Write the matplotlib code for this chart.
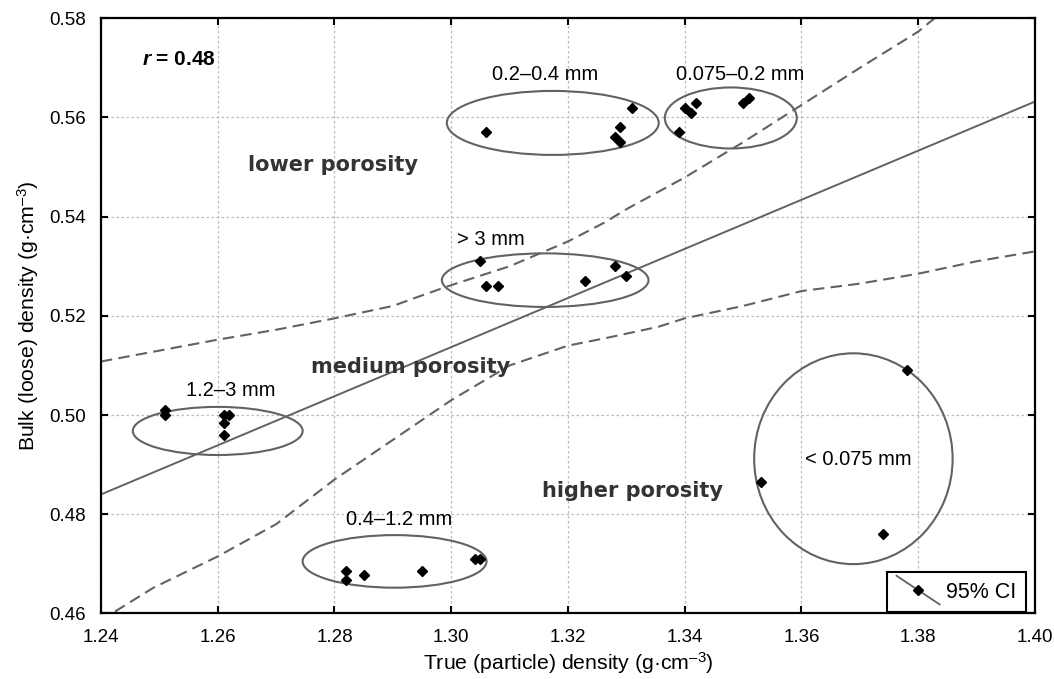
import matplotlib
matplotlib.use('Agg')
import matplotlib.pyplot as plt
from matplotlib.patches import Ellipse
from matplotlib.lines import Line2D
from matplotlib.legend_handler import HandlerBase

plt.rcParams['font.family'] = ['Liberation Sans', 'DejaVu Sans']
plt.rcParams['mathtext.fontset'] = 'custom'
plt.rcParams['mathtext.rm'] = 'Liberation Sans'
plt.rcParams['mathtext.it'] = 'Liberation Sans:italic:bold'
plt.rcParams['mathtext.bf'] = 'Liberation Sans:bold'

# 测量点 (true density, bulk density)
true_density = [1.306, 1.331, 1.329, 1.328, 1.329,            # 0.2-0.4 mm
                1.339, 1.340, 1.341, 1.342, 1.350, 1.351,     # 0.075-0.2 mm
                1.305, 1.306, 1.308, 1.323, 1.328, 1.330,     # > 3 mm
                1.251, 1.251, 1.261, 1.262, 1.261, 1.261,     # 1.2-3 mm
                1.282, 1.282, 1.285, 1.295, 1.304, 1.305,     # 0.4-1.2 mm
                1.378, 1.353, 1.374]                          # < 0.075 mm
bulk_density = [0.557, 0.562, 0.558, 0.556, 0.555,
                0.557, 0.562, 0.561, 0.563, 0.563, 0.564,
                0.531, 0.526, 0.526, 0.527, 0.530, 0.528,
                0.501, 0.500, 0.500, 0.500, 0.4985, 0.496,
                0.4686, 0.4668, 0.4678, 0.4686, 0.471, 0.471,
                0.509, 0.4866, 0.476]

# 各粒径组的椭圆 (中心, 宽, 高) 与标签
group_labels = ['0.2–0.4 mm', '0.075–0.2 mm', '> 3 mm', '1.2–3 mm', '0.4–1.2 mm', '< 0.075 mm']
ell_cx = [1.3174, 1.3479, 1.3161, 1.2600, 1.2903, 1.3689]
ell_cy = [0.5589, 0.5599, 0.5272, 0.4968, 0.4705, 0.4912]
ell_w = [0.0363, 0.0226, 0.0354, 0.0291, 0.0315, 0.0340]
ell_h = [0.0129, 0.0123, 0.0108, 0.0097, 0.0106, 0.0425]
label_x = [1.3161, 1.3495, 1.3068, 1.2623, 1.2911, 1.3698]
label_y = [0.5686, 0.5686, 0.5353, 0.5050, 0.4789, 0.4910]

# 回归线
fit_x = [1.24, 1.40]
fit_y = [0.4840, 0.5632]

# 95% 置信带
upper_x = [1.24, 1.25, 1.26, 1.27, 1.28, 1.29, 1.2947, 1.30, 1.31, 1.32, 1.3264,
           1.33, 1.34, 1.35, 1.36, 1.37, 1.38, 1.3828]
upper_y = [0.5108, 0.5130, 0.5152, 0.5172, 0.5195, 0.5220, 0.5240, 0.5262, 0.5300,
           0.5350, 0.5389, 0.5415, 0.5479, 0.5550, 0.5625, 0.5700, 0.5773, 0.5800]
lower_x = [1.2424, 1.249, 1.26, 1.27, 1.28, 1.29, 1.30, 1.31, 1.32, 1.3264, 1.3355,
           1.34, 1.35, 1.36, 1.37, 1.38, 1.39, 1.40]
lower_y = [0.4604, 0.4652, 0.4715, 0.4780, 0.4870, 0.4950, 0.5030, 0.5100, 0.5140,
           0.5155, 0.5178, 0.5195, 0.5220, 0.5250, 0.5265, 0.5285, 0.5310, 0.5330]

# 孔隙度区域文字
zone_labels = ['lower porosity', 'medium porosity', 'higher porosity']
zone_x = [1.2798, 1.2930, 1.3310]
zone_y = [0.5504, 0.5097, 0.4847]

x_ticks = [1.24, 1.26, 1.28, 1.30, 1.32, 1.34, 1.36, 1.38, 1.40]
y_ticks = [0.46, 0.48, 0.50, 0.52, 0.54, 0.56, 0.58]

GRAY = '#626262'


class DiagHandler(HandlerBase):
    # 图例: 斜线 + 菱形
    def create_artists(self, legend, orig_handle, xdescent, ydescent, width, height, fontsize, trans):
        ln = Line2D([0, width], [height * 1.45, -height * 0.45], color=GRAY, lw=1.3)
        mk = Line2D([width / 2], [height / 2], marker='D', ms=5, color='black', ls='none')
        ln.set_transform(trans)
        mk.set_transform(trans)
        return [ln, mk]


fig = plt.figure(figsize=(10.54, 6.79), dpi=100)
ax = fig.add_axes([0.0958, 0.0965, 0.8861, 0.8766])

ax.plot(fit_x, fit_y, color=GRAY, lw=1.4)
ax.plot(upper_x, upper_y, color=GRAY, lw=1.5, ls=(0, (5.5, 3)))
ax.plot(lower_x, lower_y, color=GRAY, lw=1.5, ls=(0, (5.5, 3)))

for cx, cy, w, h in zip(ell_cx, ell_cy, ell_w, ell_h):
    ax.add_patch(Ellipse((cx, cy), w, h, fill=False, edgecolor=GRAY, lw=1.5))

pts, = ax.plot(true_density, bulk_density, 'D', color='black', ms=5, zorder=5)

for txt, lx, ly in zip(group_labels, label_x, label_y):
    ax.text(lx, ly, txt, ha='center', va='center', fontsize=14.5)

for txt, zx, zy in zip(zone_labels, zone_x, zone_y):
    ax.text(zx, zy, txt, ha='center', va='center', fontsize=15,
            fontweight='bold', color='#333333', family='DejaVu Sans')

ax.text(1.247, 0.5716, '$r$ = 0.48', ha='left', va='center', fontsize=15, fontweight='bold')

ax.set_xlim(1.24, 1.40)
ax.set_ylim(0.46, 0.58)
ax.set_xticks(x_ticks)
ax.set_yticks(y_ticks)
ax.set_xticklabels(['%.2f' % v for v in x_ticks])
ax.set_yticklabels(['%.2f' % v for v in y_ticks])
ax.tick_params(direction='in', length=5, width=1.5, labelsize=13.5,
               top=True, right=True, pad=11)
for sp in ax.spines.values():
    sp.set_linewidth(1.6)
ax.grid(True, color='#bbbbbb', lw=0.9, ls=(0, (2, 2)))
ax.set_axisbelow(True)

ax.set_xlabel('True (particle) density (g·cm$^{–3}$)', fontsize=15.3, labelpad=3)
ax.set_ylabel('Bulk (loose) density (g·cm$^{–3}$)', fontsize=15.3, labelpad=6)

leg = ax.legend([pts], ['95% CI'], handler_map={pts: DiagHandler()},
                loc='lower right', bbox_to_anchor=(0.9904, 0.002), borderaxespad=0,
                fontsize=15.5, fancybox=False, framealpha=1, edgecolor='black',
                handlelength=2.0, handletextpad=0.3, borderpad=0.45)
leg.get_frame().set_linewidth(1.5)

fig.savefig('out.png', dpi=100)
